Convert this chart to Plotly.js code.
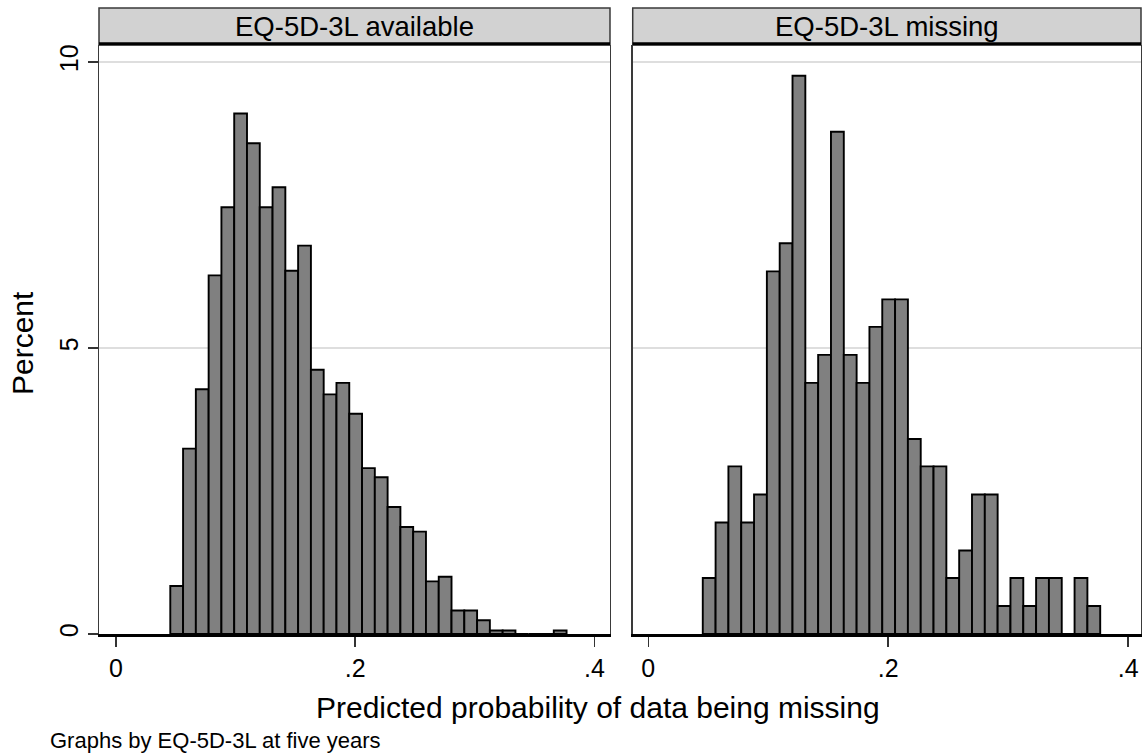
<!DOCTYPE html>
<html>
<head>
<meta charset="utf-8">
<script src="https://cdn.plot.ly/plotly-3.0.1.min.js"></script>
<style>
  html, body { margin: 0; padding: 0; background: #ffffff; }
  #chart { width: 1142px; height: 755px; }
</style>
</head>
<body>
<div id="chart"></div>
<script>
// ---- data ----
const panelTitles = ["EQ-5D-3L available", "EQ-5D-3L missing"];
const binStart = 0.0454;      // lower edge of first histogram bin
const binWidth = 0.010687;    // histogram bin width
// Percent per bin, EQ-5D-3L available (31 bins)
const availablePct = [0.84, 3.24, 4.28, 6.27, 7.46, 9.10, 8.58, 7.46, 7.81, 6.35,
                      6.79, 4.62, 4.19, 4.39, 3.85, 2.90, 2.74, 2.22, 1.87, 1.79,
                      0.92, 1.00, 0.41, 0.41, 0.24, 0.06, 0.06, 0, 0, 0,
                      0.06];
// Percent per bin, EQ-5D-3L missing (31 bins)
const missingPct = [0.98, 1.95, 2.93, 1.95, 2.44, 6.34, 6.83, 9.76, 4.39, 4.88,
                    8.78, 4.88, 4.39, 5.37, 5.85, 5.85, 3.41, 2.93, 2.93, 0.98,
                    1.46, 2.44, 2.44, 0.49, 0.98, 0.49, 0.98, 0.98, 0, 0.98,
                    0.49];
const xTickVals = [0, 0.2, 0.4];
const xTickText = ["0", ".2", ".4"];
const yTickVals = [0, 5, 10];
const yTickText = ["0", "5", "10"];
const xTitle = "Predicted probability of data being missing";
const yTitle = "Percent";
const noteText = "Graphs by EQ-5D-3L at five years";

// ---- build ----
const centers = availablePct.map((_, i) => binStart + (i + 0.5) * binWidth);
const FONT = "Liberation Sans, Arial, sans-serif";
const barStyle = { color: "#808080", line: { color: "#000000", width: 1.9 } };

const traces = [
  { type: "bar", x: centers, y: availablePct, width: binWidth, marker: barStyle,
    xaxis: "x", yaxis: "y", hoverinfo: "skip", showlegend: false },
  { type: "bar", x: centers, y: missingPct, width: binWidth, marker: barStyle,
    xaxis: "x2", yaxis: "y2", hoverinfo: "skip", showlegend: false }
];

const plotH = 755 - 45 - 121;
const stripTop = 1 + 37 / plotH;

function xAxis(domain, range, anchor) {
  return {
    domain: domain, range: range, anchor: anchor,
    tickvals: xTickVals, ticktext: xTickText,
    ticks: "outside", ticklen: 10, tickwidth: 1.5, tickcolor: "#333333",
    tickfont: { family: FONT, size: 25, color: "#000000" },
    showline: true, linecolor: "#000000", linewidth: 2.5,
    showgrid: false, zeroline: false, fixedrange: true
  };
}
function yAxis(anchor, showLabels) {
  return {
    domain: [0, 1], range: [0, 10.297], anchor: anchor,
    tickvals: yTickVals, ticktext: yTickText,
    ticks: showLabels ? "outside" : "", ticklen: 10, tickwidth: 1.5, tickcolor: "#333333",
    showticklabels: showLabels, tickangle: -90,
    tickfont: { family: FONT, size: 25, color: "#000000" },
    showline: true, mirror: true, linecolor: "#3a3a3a", linewidth: 1.5,
    showgrid: true, gridcolor: "#dedede", gridwidth: 1.2,
    zeroline: false, fixedrange: true
  };
}

const shapes = [];
const annotations = [];
[["x", "y"], ["x2", "y2"]].forEach((ax, k) => {
  shapes.push({
    type: "rect", xref: ax[0] + " domain", yref: ax[1] + " domain",
    x0: 0, x1: 1, y0: 1, y1: stripTop,
    fillcolor: "#d2d2d2", line: { color: "#3a3a3a", width: 1.5 }, layer: "above"
  });
  shapes.push({
    type: "line", xref: ax[0] + " domain", yref: ax[1] + " domain",
    x0: 0, x1: 1, y0: 1 + 1.2 / plotH, y1: 1 + 1.2 / plotH,
    line: { color: "#000000", width: 3 }, layer: "above"
  });
  annotations.push({
    text: panelTitles[k], xref: ax[0] + " domain", yref: ax[1] + " domain",
    x: 0.5, y: 1 + 19 / plotH, xanchor: "center", yanchor: "middle",
    showarrow: false, font: { family: FONT, size: 27.5, color: "#000000" }
  });
});
annotations.push({
  text: xTitle, xref: "paper", yref: "paper",
  x: (598 - 99) / 1042, y: (634 - 707) / plotH, xanchor: "center", yanchor: "middle",
  showarrow: false, font: { family: FONT, size: 30, color: "#000000" }
});
annotations.push({
  text: yTitle, xref: "paper", yref: "paper", textangle: -90,
  x: (22 - 99) / 1042, y: (634 - 343) / plotH, xanchor: "center", yanchor: "middle",
  showarrow: false, font: { family: FONT, size: 30, color: "#000000" }
});
annotations.push({
  text: noteText, xref: "paper", yref: "paper",
  x: (48 - 99) / 1042, y: (634 - 740) / plotH, xanchor: "left", yanchor: "middle",
  showarrow: false, font: { family: FONT, size: 22, color: "#000000" }
});

const layout = {
  width: 1142, height: 755,
  margin: { l: 99, r: 1, t: 45, b: 121, pad: 0 },
  paper_bgcolor: "#ffffff", plot_bgcolor: "#ffffff",
  bargap: 0, showlegend: false,
  xaxis: xAxis([0, 0.4904], [-0.0142, 0.4130], "y"),
  xaxis2: xAxis([0.5122, 1], [-0.0130, 0.4107], "y2"),
  yaxis: yAxis("x", true),
  yaxis2: yAxis("x2", false),
  shapes: shapes,
  annotations: annotations,
  font: { family: FONT, color: "#000000" }
};

Plotly.newPlot("chart", traces, layout, { staticPlot: true, displayModeBar: false });
</script>
</body>
</html>
